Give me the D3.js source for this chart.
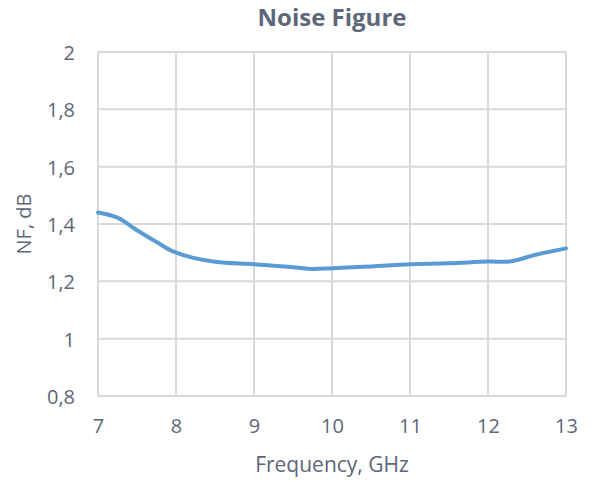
<!DOCTYPE html>
<html>
<head>
<meta charset="utf-8">
<script src="https://cdn.jsdelivr.net/npm/d3@7"></script>
<style>
  body { margin: 0; background: #fff; }
  svg text { font-family: "Open Sans", sans-serif; fill: #5d6779; }
</style>
</head>
<body>
<div id="chart"></div>
<script>
// frequency (GHz) and noise figure (dB)
var freq = [7, 7.25, 7.5, 7.75, 8, 8.5, 9, 9.5, 9.75, 10, 10.5, 11, 11.5, 12, 12.3, 12.6, 13];
var nf = [1.44, 1.422, 1.378, 1.337, 1.30, 1.268, 1.26, 1.249, 1.243, 1.246, 1.252, 1.26, 1.263, 1.269, 1.27, 1.292, 1.315];
var xTicks = [7, 8, 9, 10, 11, 12, 13];
var yTicks = [0.8, 1, 1.2, 1.4, 1.6, 1.8, 2];

var width = 595
    height = 482
var margin = { top: 52, right: 29, bottom: 86, left: 98 }
var w = width - margin.left - margin.right
var h = height - margin.top - margin.bottom

var svg = d3.select("#chart")
    .append("svg")
    .attr("width", width)
    .attr("height", height)

var g = svg.append("g")
    .attr("transform", "translate(" + margin.left + "," + margin.top + ")");

var x = d3.scaleLinear().domain([7, 13]).range([0, w])
var y = d3.scaleLinear().domain([0.8, 2]).range([h, 0])

// grid lines
g.selectAll("vgrid")
    .data(xTicks)
    .enter()
    .append("line")
    .attr("x1", function (d) { return x(d) })
    .attr("x2", function (d) { return x(d) })
    .attr("y1", 0)
    .attr("y2", h)
    .attr("stroke", "#d9d9d9")
    .attr("stroke-width", 2)
g.selectAll("hgrid")
    .data(yTicks)
    .enter()
    .append("line")
    .attr("x1", 0)
    .attr("x2", w)
    .attr("y1", function (d) { return y(d) })
    .attr("y2", function (d) { return y(d) })
    .attr("stroke", "#d9d9d9")
    .attr("stroke-width", 2)

// axes, labels only
var fmt = function (d) { return String(d).replace(".", ",") }
var xAxis = g.append("g")
    .attr("transform", "translate(0," + h + ")")
    .call(d3.axisBottom(x).tickValues(xTicks).tickSize(0).tickPadding(23).tickFormat(fmt))
xAxis.select(".domain").remove()
xAxis.selectAll("text").style("font-size", "20px").attr("fill", null)

var yAxis = g.append("g")
    .call(d3.axisLeft(y).tickValues(yTicks).tickSize(0).tickPadding(23).tickFormat(fmt))
yAxis.select(".domain").remove()
yAxis.selectAll("text").style("font-size", "20px").attr("fill", null).attr("dy", "0.38em")

// the curve
var line = d3.line()
    .x(function (d, i) { return x(freq[i]) })
    .y(function (d) { return y(d) })
    .curve(d3.curveCatmullRom.alpha(0.5))
g.append("path")
    .datum(nf)
    .attr("d", line)
    .attr("fill", "none")
    .attr("stroke", "#5b9bd5")
    .attr("stroke-width", 4)
    .attr("stroke-linecap", "round")

// titles
svg.append("text")
    .attr("x", margin.left + w / 2)
    .attr("y", 26)
    .attr("text-anchor", "middle")
    .style("font-size", "24px")
    .style("font-weight", "bold")
    .text("Noise Figure")
svg.append("text")
    .attr("x", margin.left + w / 2)
    .attr("y", 472)
    .attr("text-anchor", "middle")
    .style("font-size", "21px")
    .text("Frequency, GHz")
svg.append("text")
    .attr("transform", "translate(31," + (margin.top + h / 2) + ")rotate(-90)")
    .attr("text-anchor", "middle")
    .style("font-size", "20px")
    .text("NF, dB")
</script>
</body>
</html>
